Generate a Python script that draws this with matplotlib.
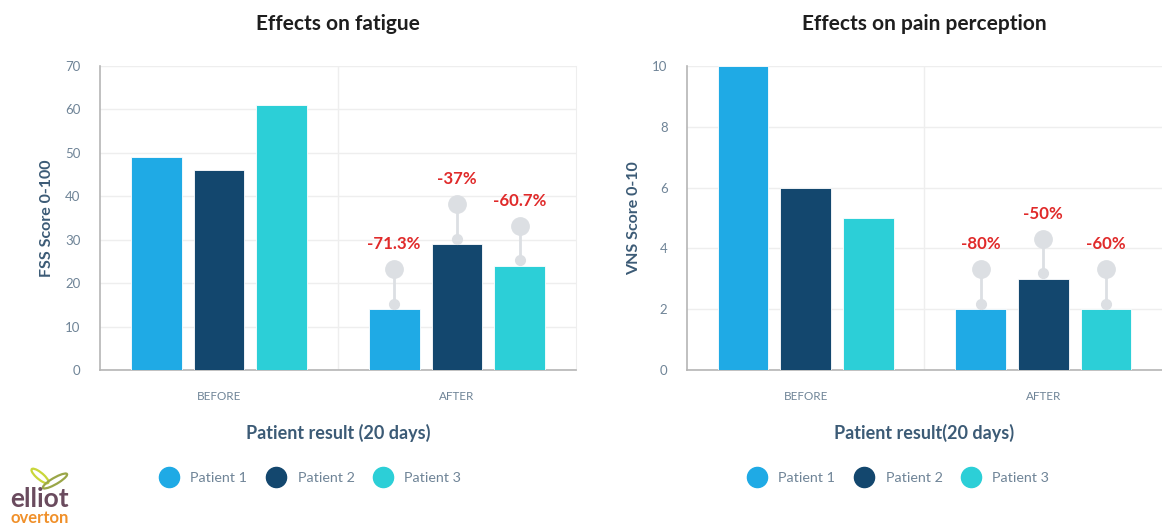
import numpy as np
import matplotlib
matplotlib.use("Agg")
import matplotlib.pyplot as plt
from matplotlib.lines import Line2D
from matplotlib.patches import Ellipse

plt.rcParams.update({"font.family": ["Lato", "DejaVu Sans"]})

C1, C2, C3 = "#1faae5", "#13476e", "#2ccfd7"
TICK, LAB, RED, DOT = "#6f8497", "#3c5b76", "#e02a2a", "#dcdfe3"

categories = ["BEFORE", "AFTER"]
patients = ["Patient 1", "Patient 2", "Patient 3"]
fatigue = {"Patient 1": [49, 14], "Patient 2": [46, 29], "Patient 3": [61, 24]}
fatigue_change = ["-71.3%", "-37%", "-60.7%"]
pain = {"Patient 1": [10, 2], "Patient 2": [6, 3], "Patient 3": [5, 2]}
pain_change = ["-80%", "-50%", "-60%"]

fig = plt.figure(figsize=(11.62, 5.26), dpi=100)
W, H = 1162, 526
def box(x0, y0, x1, y1):
    return [x0 / W, 1 - y1 / H, (x1 - x0) / W, (y1 - y0) / H]

ax1 = fig.add_axes(box(100, 66, 576, 370))
ax2 = fig.add_axes(box(687, 66, 1162, 370))

def panel(ax, data, changes, ymax, step, title, ylabel, xlabel, right_border):
    x = np.arange(len(categories))
    offs = [-0.264, 0, 0.264]
    cols = [C1, C2, C3]
    for i, p in enumerate(patients):
        ax.bar(x + offs[i], data[p], 0.214, color=cols[i], edgecolor="#ffffff",
               linewidth=0.6, zorder=3)
        # lollipop marker over the AFTER bar
        top = data[p][1]
        lo, hi = top + 0.018 * ymax, top + 0.132 * ymax
        xp = x[1] + offs[i]
        ax.plot([xp, xp], [lo, hi], color=DOT, lw=2, zorder=4, solid_capstyle="butt")
        ax.plot(xp, lo, "o", ms=7, color=DOT, zorder=5)
        ax.plot(xp, hi, "o", ms=12.5, color=DOT, zorder=5)
        ax.annotate(changes[i], (xp, hi), xytext=(0, 12), textcoords="offset points",
                    ha="center", va="bottom", color=RED, fontsize=12.2, fontweight="bold")
    ax.set_xlim(-0.5, 1.5)
    ax.set_ylim(0, ymax)
    ax.set_yticks(np.arange(0, ymax + step / 2, step))
    ax.set_xticks(x)
    ax.set_xticklabels(categories)
    ax.tick_params(axis="x", length=0, pad=15, labelsize=8.4, labelcolor=TICK)
    ax.tick_params(axis="y", length=0, pad=14, labelsize=9.5, labelcolor=TICK)
    ax.grid(axis="y", color="#eeeeee", lw=1, zorder=0)
    ax.axvline(0.5, color="#eeeeee", lw=1, zorder=0)
    ax.spines["top"].set_visible(False)
    ax.spines["right"].set_visible(right_border)
    ax.spines["right"].set_color("#eeeeee")
    for s in ["left", "bottom"]:
        ax.spines[s].set_color("#b5b5b5")
        ax.spines[s].set_linewidth(1.2)
    ax.set_title(title, fontsize=15, fontweight="bold", color="#1e1e1e", pad=26)
    ax.set_ylabel(ylabel, fontsize=11.5, fontweight="bold", color=LAB, labelpad=8)
    ax.set_xlabel(xlabel, fontsize=13, fontweight="bold", color=LAB, labelpad=16)

panel(ax1, fatigue, fatigue_change, 70, 10, "Effects on fatigue", "FSS Score 0-100",
      "Patient result (20 days)", True)
panel(ax2, pain, pain_change, 10, 2, "Effects on pain perception", "VNS Score 0-10",
      "Patient result(20 days)", False)

handles = [Line2D([], [], marker="o", ls="none", ms=14.5, color=c) for c in (C1, C2, C3)]
for cx in (308, 896):
    fig.legend(handles, patients, loc="center", bbox_to_anchor=(cx / W, 1 - 478 / H),
               ncol=3, frameon=False, fontsize=10.3, labelcolor=TICK, handletextpad=0.5,
               columnspacing=1.0)

# logo
fig.add_artist(Ellipse((40 / W, 1 - 476 / H), 9 / W, 16 / H, angle=25,
                       transform=fig.transFigure, fc="none", ec="#c9d63a", lw=1.6))
fig.add_artist(Ellipse((55 / W, 1 - 481 / H), 10 / W, 18 / H, angle=-35,
                       transform=fig.transFigure, fc="none", ec="#9aa648", lw=1.6))
fig.text(40 / W, 1 - 499 / H, "elliot", ha="center", va="center", fontsize=19,
         fontweight="bold", color="#6a4b5e")
fig.text(40 / W, 1 - 518 / H, "overton", ha="center", va="center", fontsize=12,
         fontweight="bold", color="#f0902a")

fig.savefig("out.png", dpi=100)
